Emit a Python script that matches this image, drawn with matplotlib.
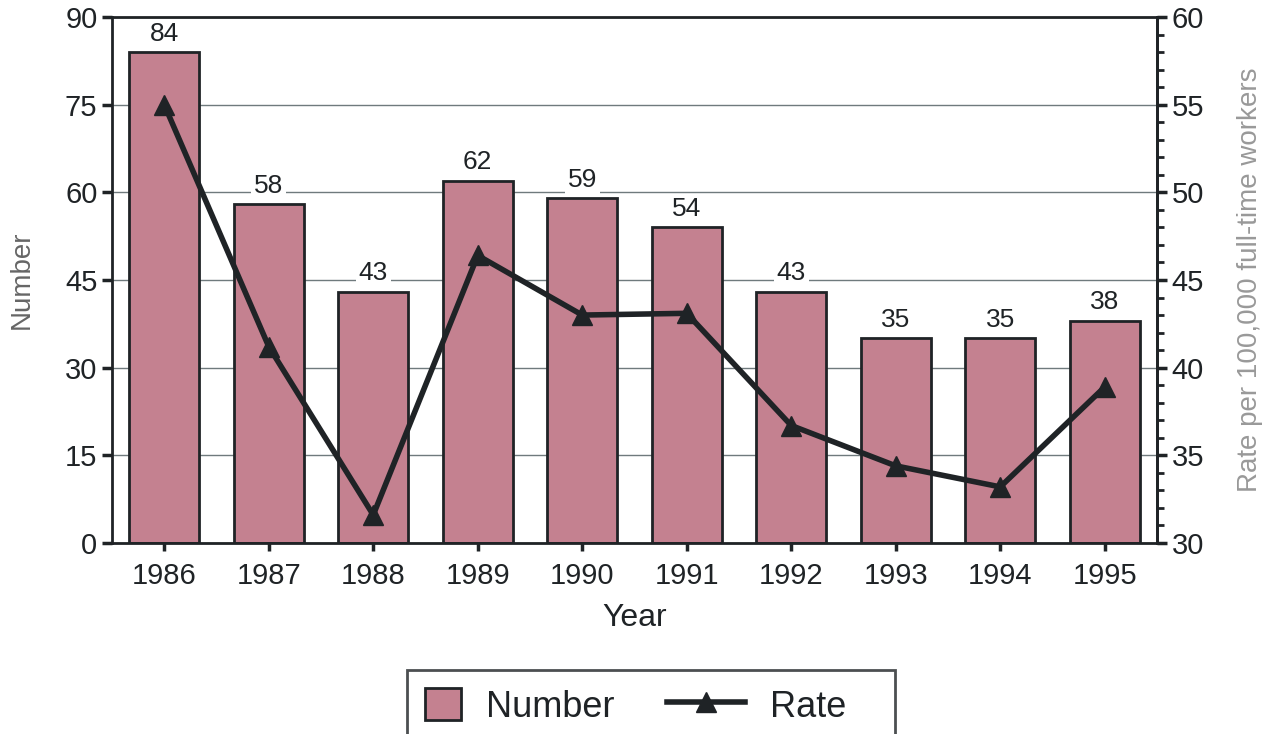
import matplotlib.pyplot as plt
import numpy as np
from matplotlib.legend_handler import HandlerLine2D

plt.rcParams['font.family'] = ['Liberation Sans', 'DejaVu Sans']

# data
years = ['1986', '1987', '1988', '1989', '1990', '1991', '1992', '1993', '1994', '1995']
number = [84, 58, 43, 62, 59, 54, 43, 35, 35, 38]
rate = [55.0, 41.2, 31.6, 46.4, 43.0, 43.1, 36.7, 34.4, 33.2, 38.9]

bar_col = '#c48190'
dark = '#1f2326'


# legend line drawn longer than the square patch (ext in points)
class LongLine(HandlerLine2D):
    def create_artists(self, legend, orig_handle, xdescent, ydescent, width, height, fontsize, trans):
        ext = 30
        return super().create_artists(legend, orig_handle, xdescent + ext, ydescent,
                                      width + ext, height, fontsize, trans)


fig = plt.figure(figsize=(12.7, 7.34), dpi=100)
ax = fig.add_axes([112/1270, 1-543/734, (1157-112)/1270, (543-17)/734])
x = np.arange(len(years))

ax.set_axisbelow(True)
ax.yaxis.grid(True, color='#6f7a7d', lw=1)
bars = ax.bar(x, number, width=0.67, color=bar_col, edgecolor=dark, lw=2, label='Number', zorder=2)
for xi, v in zip(x, number):
    ax.text(xi, v + 1.1, str(v), ha='center', va='bottom', fontsize=19, color=dark,
            bbox=dict(facecolor='white', edgecolor='none', pad=2), zorder=3)

ax.set_xlim(-0.5, 9.5)
ax.set_ylim(0, 90)
ax.set_yticks(range(0, 91, 15))
ax.set_xticks(x)
ax.set_xticklabels(years)
ax.tick_params(axis='both', labelsize=21, colors=dark, width=2.5, length=7)
ax.tick_params(axis='x', length=6, pad=8)
ax.set_xlabel('Year', fontsize=23, color=dark, labelpad=9)
ax.set_ylabel('Number', fontsize=20, color='#666666', labelpad=22)
for s in ax.spines.values():
    s.set_color(dark)
    s.set_linewidth(2)

ax2 = ax.twinx()
line, = ax2.plot(x, rate, color=dark, lw=4, marker='^', markersize=15, label='Rate', zorder=4)
ax2.set_ylim(30, 60)
ax2.set_yticks(range(30, 61, 5))
ax2.set_yticks(range(30, 61, 1), minor=True)
ax2.tick_params(axis='y', labelsize=21, colors=dark, width=2.5, length=7)
ax2.tick_params(axis='y', which='minor', width=2, length=5, colors=dark)
ax2.set_ylabel('Rate per 100,000 full-time workers', fontsize=20, color='#999999', labelpad=24)
for side in ['top', 'bottom', 'left']:
    ax2.spines[side].set_visible(False)
ax2.spines['right'].set_color(dark)
ax2.spines['right'].set_linewidth(2)

# trailing spaces leave the empty room at the right of the legend box
leg = fig.legend([bars, line], ['Number', 'Rate   '], loc='upper left',
                 bbox_to_anchor=(407/1270, 1-670/734), borderaxespad=0,
                 ncol=2, fontsize=26, frameon=True, fancybox=False, borderpad=0.5,
                 handlelength=1.0, handleheight=1.0, columnspacing=2.6, handletextpad=0.7,
                 handler_map={line: LongLine()})
leg.get_frame().set_edgecolor(dark)
leg.get_frame().set_linewidth(2)
for t in leg.get_texts():
    t.set_color(dark)

fig.savefig('out.png', dpi=100)
